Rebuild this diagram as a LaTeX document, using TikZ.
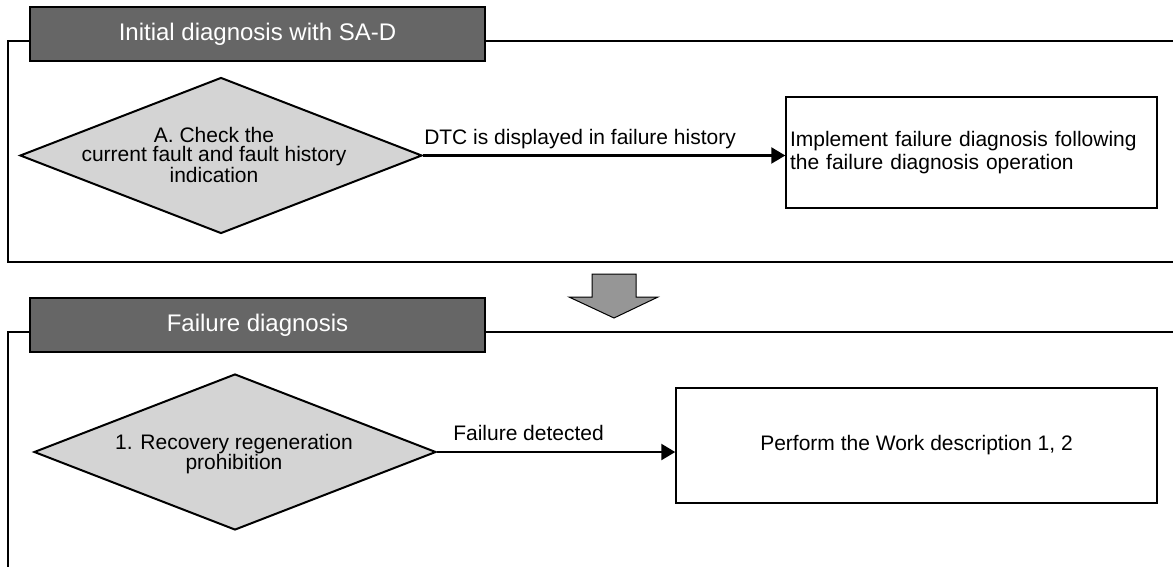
\documentclass[tikz,border=0pt]{standalone}
\usepackage{fontspec}
\setmainfont{Liberation Sans}
\usetikzlibrary{shapes.geometric,arrows.meta}

\begin{document}
\begin{tikzpicture}[x=1pt,y=-1pt,
    frame/.style={line width=1.3pt},
    header/.style={draw=black,line width=1.5pt,fill=col_header,text=white,font=\fontsize{24}{26}\selectfont,minimum width=455pt,minimum height=54pt,inner sep=0pt},
    decision/.style={shape=diamond,draw=black,line width=2pt,fill=col_decision,minimum width=402pt,minimum height=156pt,inner sep=0pt},
    dectext/.style={align=center,font=\fontsize{21}{19.5}\selectfont,inner sep=0pt},
    action/.style={draw=black,line width=1.5pt,fill=white,font=\fontsize{21}{23}\selectfont},
    flow/.style={line width=2.5pt,-{Triangle[length=14pt,width=16pt]}},
    flowlabel/.style={anchor=base west,font=\fontsize{21}{24}\selectfont,inner sep=0pt}]
    \definecolor{col_header}{HTML}{666666} % dark title bars
    \definecolor{col_decision}{HTML}{D4D4D4} % diamonds
    \definecolor{col_arrow}{HTML}{969696} % big down arrow
    \useasboundingbox (0,0) rectangle (1173,567);
    % first stage
    \coordinate (f1tl) at (8,41);
    \coordinate (f1bl) at (8,262);
    \coordinate (f1br) at (1173,262);
    \coordinate (f1tr) at (1173,41);
    \node[header] (h1) at (257.5,34) {Initial diagnosis with SA-D};
    \draw[frame] (h1.west |- f1tl) -- (f1tl) -- (f1bl) -- (f1br);
    \draw[frame] (h1.east |- f1tl) -- (f1tr);
    \node[decision] (chk) at (221,155.5) {};
    \node[dectext] (chktxt) at (214,155) {A. Check the\\current fault and fault history\\indication};
    \node[action,minimum width=371pt,minimum height=111pt,text width=363pt,inner xsep=4pt,inner ysep=0pt,align=left] (impl) at (971.5,152.5) {Implement failure diagnosis following\\the failure diagnosis operation};
    \draw[flow] (chk.east) -- node[flowlabel,pos=0,yshift=11pt] (dtc) {DTC is displayed in failure history} (chk.east -| impl.west);
    % stage arrow
    \filldraw[fill=col_arrow,line width=1pt] (592,274) -- (636,274) -- (636,297) -- (658,297) -- (614,318) -- (569,297) -- (592,297) -- cycle;
    % second stage
    \coordinate (f2tl) at (8,332);
    \coordinate (f2bl) at (8,567);
    \coordinate (f2tr) at (1173,332);
    \node[header] (h2) at (257.5,325) {Failure diagnosis};
    \draw[frame] (h2.west |- f2tl) -- (f2tl) -- (f2bl);
    \draw[frame] (h2.east |- f2tl) -- (f2tr);
    \node[decision] (regen) at (235,452) {};
    \node[dectext] (regentxt) at (234,454) {1. Recovery regeneration\\prohibition};
    \node[action,minimum width=481pt,minimum height=115pt] (work) at (916.5,445.5) {Perform the Work description 1, 2};
    \draw[flow] (regen.east) -- node[flowlabel,pos=0,xshift=15pt,yshift=12pt] (fdet) {Failure detected} (regen.east -| work.west);
\end{tikzpicture}
\end{document}
